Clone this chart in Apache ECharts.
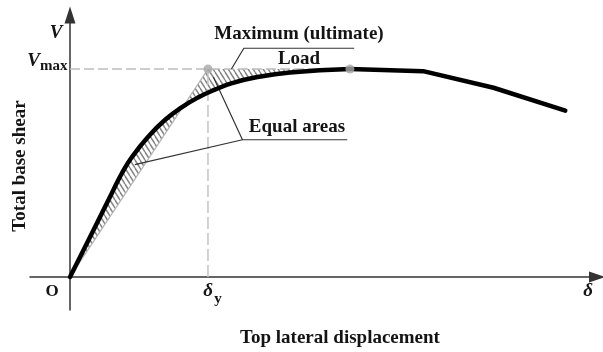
<!DOCTYPE html>
<html>
<head>
<meta charset="utf-8">
<script src="https://cdn.jsdelivr.net/npm/echarts@6/dist/echarts.min.js"></script>
<style>
  html, body { margin: 0; padding: 0; background: #fff; }
  #chart { width: 603px; height: 352px; }
</style>
</head>
<body>
<div id="chart"></div>
<script>
// Pushover capacity curve: displacement normalised by the yield displacement,
// base shear normalised by the maximum (ultimate) load.
const deltaCurve = [0, 0.109, 0.203, 0.304, 0.377, 0.449, 0.565, 0.688, 0.812, 0.928, 1.051, 1.174, 1.341, 1.594, 2.029];
const shearCurve = [0, 0.144, 0.269, 0.404, 0.500, 0.577, 0.673, 0.755, 0.817, 0.863, 0.901, 0.932, 0.959, 0.983, 1.000];
const deltaSoftening = [2.029, 2.56, 3.07, 3.59];
const shearSoftening = [1.000, 0.99, 0.91, 0.80];

// Idealised bilinear curve
const deltaYield = 1.0;
const shearMax = 1.0;
const deltaPeak = 2.029;
const crossing = [0.82, 0.82]; // where the elastic branch crosses the capacity curve

// Leader lines for the annotations
const loadLeader = [[1.17, 1.0], [1.26, 1.10], [2.06, 1.10]];
const areasLeaderUpper = [[1.04, 0.96], [1.25, 0.66], [2.01, 0.66]];
const areasLeaderLower = [[1.25, 0.66], [0.47, 0.54]];

const zip = (xs, ys) => xs.map((x, i) => [x, ys[i]]);
const curve = zip(deltaCurve, shearCurve);
const softening = zip(deltaSoftening, shearSoftening);

// Hatched regions between the capacity curve and the bilinear idealisation
const lowerArea = [...curve.filter(p => p[0] < crossing[0]), crossing];
const upperArea = [crossing, [deltaYield, shearMax], [deltaPeak, shearMax],
  ...curve.filter(p => p[0] > crossing[0] && p[0] < deltaPeak).reverse()];
const hatchAreas = [lowerArea, upperArea];

// Diagonal hatch tile
function makeHatch() {
  const w = 5, h = 8;
  const c = document.createElement('canvas');
  c.width = w; c.height = h;
  const ctx = c.getContext('2d');
  ctx.strokeStyle = '#858585';
  ctx.lineWidth = 1.5;
  for (const k of [-w, 0, w]) {
    ctx.beginPath();
    ctx.moveTo(k, 0);
    ctx.lineTo(k + w, h);
    ctx.stroke();
  }
  return c;
}
const hatch = { image: makeHatch(), repeat: 'repeat' };

const serif = '"Liberation Serif", "Times New Roman", serif';
const ink = '#141414';

const chart = echarts.init(document.getElementById('chart'), null, { renderer: 'canvas' });

const thinLine = (data, color, width, type) => ({
  type: 'line', data, symbol: 'none', silent: true, animation: false,
  lineStyle: { color, width, type: type || 'solid' }, z: 3
});

const label = (text, x, y, font, extra) => ({
  type: 'text', x, y,
  style: Object.assign({ text, font: font + ' ' + serif, fill: ink, align: 'center', verticalAlign: 'middle' }, extra || {})
});

chart.setOption({
  animation: false,
  grid: { left: 30, right: 6, top: 15, bottom: 42 },
  xAxis: {
    type: 'value', min: -0.29, max: 3.82,
    axisLine: { onZero: true, lineStyle: { color: '#333', width: 1.5 },
      symbol: ['none', 'triangle'], symbolSize: [11, 16] },
    axisTick: { show: false }, axisLabel: { show: false }, splitLine: { show: false }
  },
  yAxis: {
    type: 'value', min: -0.159, max: 1.26,
    axisLine: { onZero: true, lineStyle: { color: '#333', width: 1.5 },
      symbol: ['none', 'triangle'], symbolSize: [11, 17] },
    axisTick: { show: false }, axisLabel: { show: false }, splitLine: { show: false }
  },
  series: [
    {
      type: 'custom', coordinateSystem: 'cartesian2d', silent: true, z: 1,
      data: hatchAreas.map((a, i) => [a[0][0], a[0][1], i]),
      renderItem: (params, api) => ({
        type: 'polygon',
        shape: { points: hatchAreas[params.dataIndex].map(p => api.coord(p)) },
        style: { fill: hatch, stroke: 'none' }
      })
    },
    // bilinear idealisation
    thinLine([[0, 0], [deltaYield, shearMax]], '#b4b4b4', 1.2),
    thinLine([[0, shearMax], [deltaPeak, shearMax]], '#bdbdbd', 1.5, [10, 4]),
    thinLine([[deltaYield, 0], [deltaYield, shearMax]], '#c4c4c4', 1.5, [12, 4]),
    // leaders
    thinLine(loadLeader, '#333', 1.2),
    thinLine(areasLeaderUpper, '#333', 1.2),
    thinLine(areasLeaderLower, '#333', 1.2),
    // capacity curve
    {
      type: 'line', data: curve, smooth: 0.5, symbol: 'none', silent: true, z: 5,
      lineStyle: { color: '#000', width: 4.5, cap: 'round', join: 'round' }
    },
    {
      type: 'line', data: softening, symbol: 'none', silent: true, z: 5,
      lineStyle: { color: '#000', width: 4.5, cap: 'round', join: 'round' }
    },
    {
      type: 'scatter', data: [[deltaYield, shearMax], [deltaPeak, shearMax]],
      symbolSize: 9, silent: true, z: 6,
      itemStyle: { color: '#a8a8a8' }
    }
  ],
  graphic: [
    label('V', 56, 33, 'italic bold 19px'),
    label('V', 40, 61, 'italic bold 19px', { align: 'right' }),
    label('max', 40, 66, 'bold 15px', { align: 'left' }),
    label('O', 52, 292, 'bold 17px'),
    label('δ', 208, 291, 'italic bold 19px'),
    label('y', 218, 299, 'bold 15px'),
    label('δ', 588, 291, 'italic bold 19px'),
    Object.assign(label('Total base shear', 20, 166, 'bold 19px'), { rotation: Math.PI / 2 }),
    label('Top lateral displacement', 340, 338, 'bold 19px'),
    label('Maximum (ultimate)', 299, 34, 'bold 19px'),
    label('Load', 299, 59, 'bold 19px'),
    label('Equal areas', 297, 127, 'bold 19px')
  ]
});
</script>
</body>
</html>
